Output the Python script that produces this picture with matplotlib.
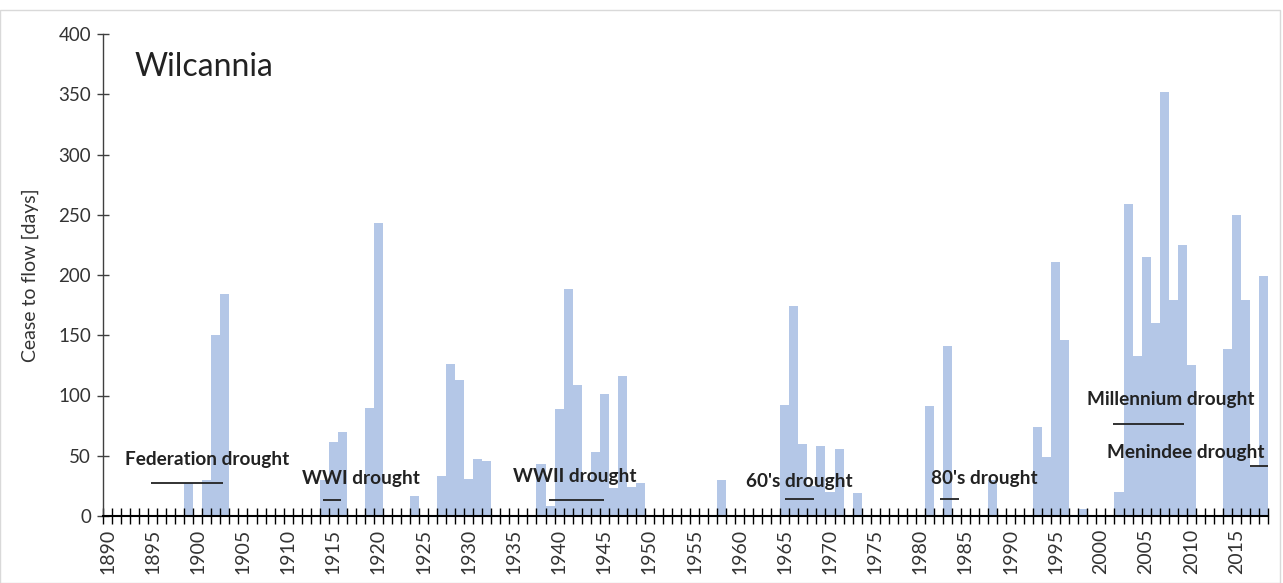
import matplotlib
matplotlib.use("Agg")
import matplotlib.pyplot as plt
from matplotlib.patches import Rectangle
import numpy as np

# ---------------- data ----------------
years = list(range(1890, 2019))
cease_days = [
    0, 0, 0, 0, 0, 0, 0, 0, 0, 27,          # 1890-1899
    0, 30, 150, 184, 0, 0, 0, 0, 0, 0,      # 1900-1909
    0, 0, 0, 0, 30, 61, 70, 0, 0, 90,       # 1910-1919
    243, 0, 0, 0, 17, 0, 0, 33, 126, 113,   # 1920-1929
    31, 47, 46, 0, 0, 0, 0, 0, 43, 8,       # 1930-1939
    89, 188, 109, 30, 53, 101, 23, 116, 24, 27,  # 1940-1949
    0, 0, 0, 0, 0, 0, 0, 0, 30, 0,          # 1950-1959
    0, 0, 0, 0, 0, 92, 174, 60, 25, 58,     # 1960-1969
    20, 56, 0, 19, 0, 0, 0, 0, 0, 0,        # 1970-1979
    0, 91, 0, 141, 0, 0, 0, 0, 30, 0,       # 1980-1989
    0, 0, 0, 74, 49, 211, 146, 0, 6, 0,     # 1990-1999
    0, 0, 20, 259, 133, 215, 160, 352, 179, 225,  # 2000-2009
    125, 0, 0, 0, 139, 250, 179, 41, 199,   # 2010-2018
]
tick_years = list(range(1890, 2016, 5))
y_ticks = list(range(0, 401, 50))

drought_names = ["Federation drought", "WWI drought", "WWII drought",
                 "60's drought", "80's drought", "Millennium drought",
                 "Menindee drought"]
drought_start = [1894.8, 1913.9, 1938.9, 1965.0, 1982.2, 2001.35, 2016.5]
drought_end = [1902.8, 1915.9, 1945.0, 1968.2, 1984.3, 2009.2, 2018.5]
drought_level = [27.5, 13.3, 13.3, 14.0, 14.5, 76.5, 41.5]
label_x = [1891.9, 1911.5, 1934.9, 1960.7, 1981.2, 1998.5, 2000.7]
label_y = [47.3, 31.5, 32.4, 29.0, 31.5, 97.0, 53.0]

# ---------------- figure ----------------
plt.rcParams["font.family"] = ["Lato", "DejaVu Sans"]
W, H = 1283, 583
fig = plt.figure(figsize=(W / 100, H / 100), dpi=100)
ax = fig.add_axes([103 / W, (H - 516) / H, (1268 - 103) / W, (516 - 34) / H])

ax.bar(years, cease_days, width=1.0, color="#b4c7e7", linewidth=0, zorder=1)

ax.set_xlim(1889.5, 2018.5)
ax.set_ylim(0, 400)

ax.set_yticks(y_ticks)
ax.set_yticklabels([str(v) for v in y_ticks], fontsize=13.5, color="#333333")
ax.tick_params(axis="y", direction="inout", length=9, width=1.0,
               color="#404040", pad=4)

ax.set_xticks(tick_years)
ax.set_xticklabels([str(y) for y in tick_years], rotation=90,
                   fontsize=14, color="#333333")
ax.set_xticks(np.arange(1889.5, 2019, 1.0), minor=True)
ax.tick_params(axis="x", which="major", length=0, pad=9)
ax.tick_params(axis="x", which="minor", direction="inout", length=11,
               width=1.0, color="black")

for s in ["top", "right"]:
    ax.spines[s].set_visible(False)
ax.spines["left"].set_color("#404040")
ax.spines["left"].set_linewidth(1.0)
ax.spines["bottom"].set_color("black")
ax.spines["bottom"].set_linewidth(1.5)

ax.set_ylabel("Cease to flow [days]", fontsize=14, color="#333333", labelpad=14)

ax.text(1893.0, 372.6, "Wilcannia", fontsize=23, color="#222222",
        ha="left", va="center")

for name, x0, x1, lv, lx, ly in zip(drought_names, drought_start, drought_end,
                                     drought_level, label_x, label_y):
    ax.plot([x0, x1], [lv, lv], color="#222222", lw=1.3, zorder=3,
            solid_capstyle="butt")
    ax.text(lx, ly, name, fontsize=13.7, fontweight="bold", color="#222222",
            ha="left", va="center", zorder=4)

fig.add_artist(Rectangle((0, 0), 1280 / W, (H - 10) / H,
                         transform=fig.transFigure, fill=False,
                         edgecolor="#d9d9d9", lw=1.0))

fig.savefig("out.png", dpi=100, facecolor="white")
